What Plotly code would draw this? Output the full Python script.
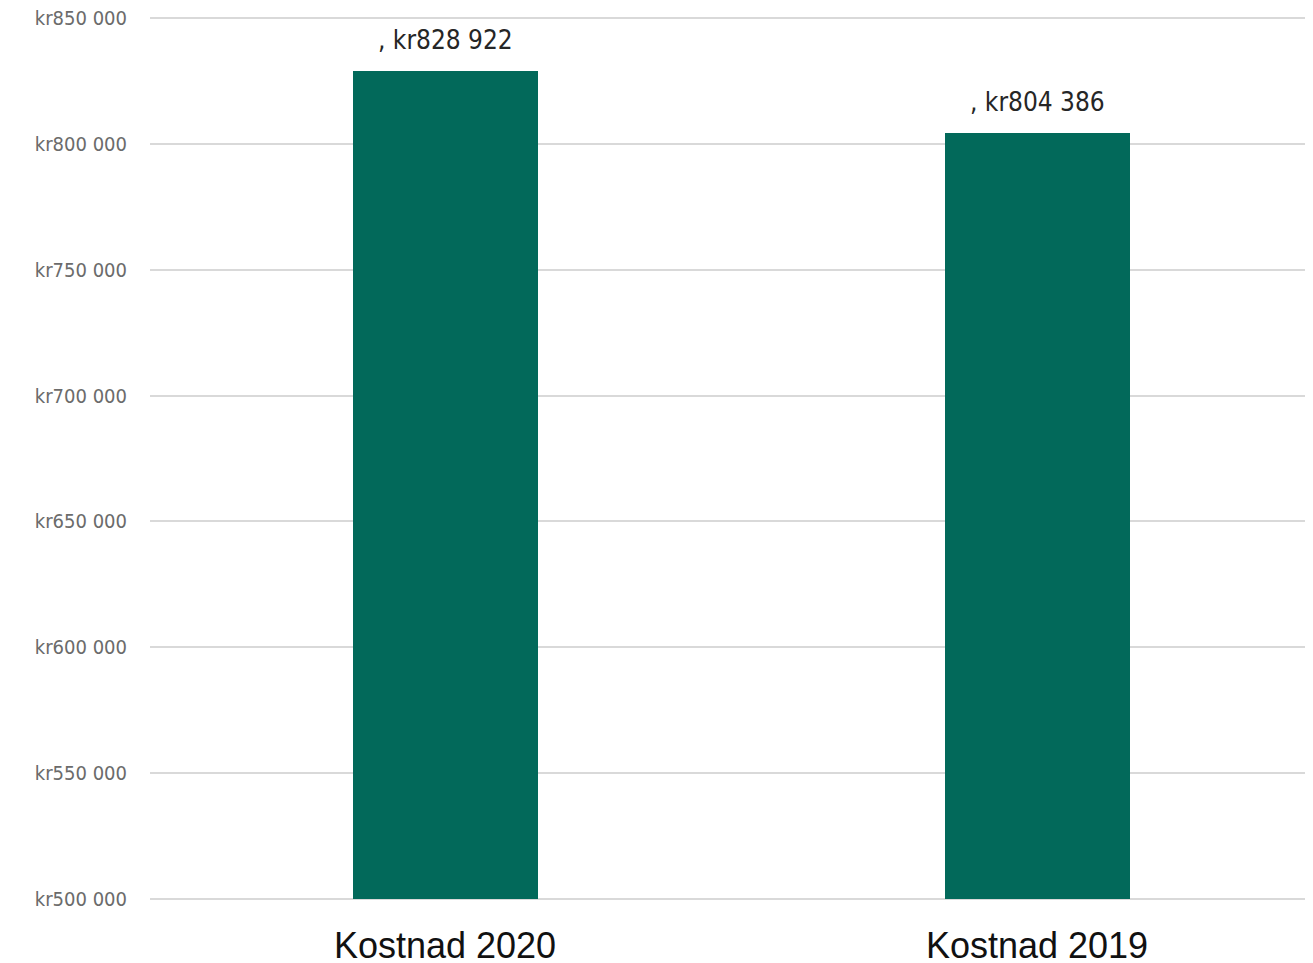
import plotly.graph_objects as go

categories = ["Kostnad 2020", "Kostnad 2019"]
values = [828922, 804386]
y_ticks = [500000, 550000, 600000, 650000, 700000, 750000, 800000, 850000]
y_base = 500000


def fmt(v):
    return "kr" + f"{v:,}".replace(",", " ")


y_ticktext = [fmt(v) for v in y_ticks]
bar_labels = [", " + fmt(v) for v in values]

NARROW = "DejaVu Sans Condensed, Liberation Sans Narrow, DejaVu Sans, sans-serif"

fig = go.Figure()
fig.add_trace(go.Bar(
    x=list(range(len(categories))),
    y=[v - y_base for v in values],
    base=y_base,
    width=0.3125,
    marker=dict(color="#02695A", line=dict(width=0)),
    hoverinfo="skip",
))

for i, (v, lab) in enumerate(zip(values, bar_labels)):
    fig.add_annotation(x=i, y=v, text=lab, showarrow=False, yshift=31,
                       font=dict(family=NARROW, size=26, color="#262626"))

fig.update_layout(
    width=1305, height=955,
    margin=dict(l=142, r=0, t=5, b=56, autoexpand=False),
    paper_bgcolor="white", plot_bgcolor="white",
    showlegend=False,
    bargap=0,
    xaxis=dict(
        range=[-0.4983, 1.4662],
        tickvals=list(range(len(categories))),
        ticktext=categories,
        tickfont=dict(family="Liberation Sans", size=36, color="#111111"),
        showgrid=False, zeroline=False, showline=False,
        ticks="", ticklabelstandoff=14, automargin=False,
        ticklabeloverflow="allow",
    ),
    yaxis=dict(
        range=[496822, 851986],
        tickvals=y_ticks,
        ticktext=y_ticktext,
        tickfont=dict(family=NARROW, size=20, color="#6b6b6b"),
        showgrid=True, gridcolor="#d9d9d9", gridwidth=1.5,
        zeroline=False, showline=False, ticks="",
        ticklabelstandoff=22, automargin=False,
        ticklabeloverflow="allow",
    ),
)

fig.write_html("out.html")
